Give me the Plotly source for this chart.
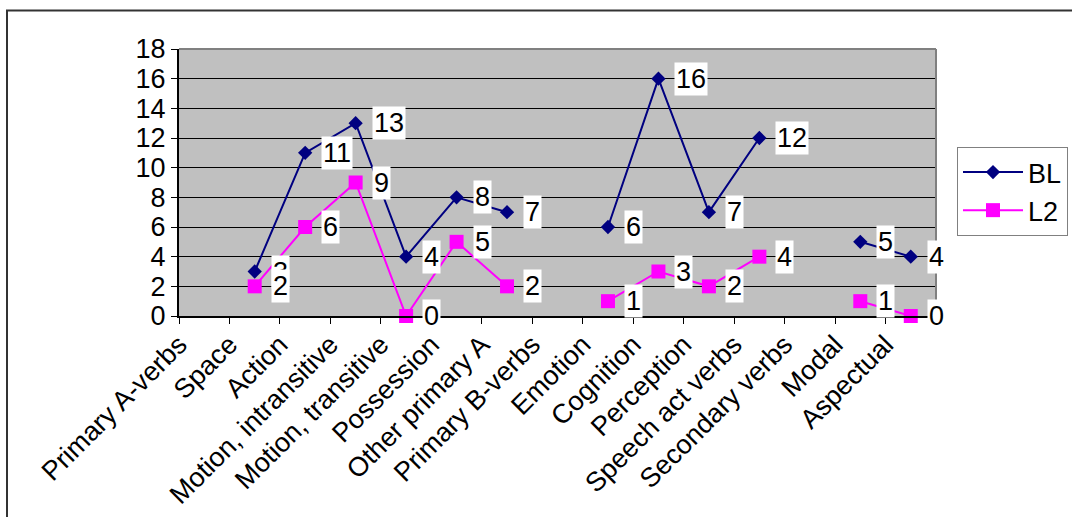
import plotly.graph_objects as go

categories = [
    "Primary A-verbs", "Space", "Action", "Motion, intransitive",
    "Motion, transitive", "Possession", "Other primary A", "Primary B-verbs",
    "Emotion", "Cognition", "Perception", "Speech act verbs",
    "Secondary verbs", "Modal", "Aspectual",
]
bl_values = [None, 3, 11, 13, 4, 8, 7, None, 6, 16, 7, 12, None, 5, 4]
l2_values = [None, 2, 6, 9, 0, 5, 2, None, 1, 3, 2, 4, None, 1, 0]
y_ticks = list(range(0, 19, 2))

FONT = "Liberation Sans, Arial, sans-serif"
FS = 27
NAVY = "#000080"
MAGENTA = "#FF00FF"

x_idx = list(range(len(categories)))

fig = go.Figure()
fig.add_trace(go.Scatter(
    x=x_idx, y=bl_values, name="BL", mode="lines+markers",
    line=dict(color=NAVY, width=2),
    marker=dict(symbol="diamond", size=11, color=NAVY),
    connectgaps=False, cliponaxis=False,
))
fig.add_trace(go.Scatter(
    x=x_idx, y=l2_values, name="L2", mode="lines+markers",
    line=dict(color=MAGENTA, width=2),
    marker=dict(symbol="square", size=14, color=MAGENTA),
    connectgaps=False, cliponaxis=False,
))

# value labels in white boxes to the right of each point
annotations = []
for series in (bl_values, l2_values):
    for i, v in enumerate(series):
        if v is None:
            continue
        annotations.append(dict(
            x=i, y=v, xref="x", yref="y", text=str(v), showarrow=False,
            xanchor="left", yanchor="middle", xshift=16,
            bgcolor="white", borderpad=1,
            font=dict(family=FONT, size=FS, color="black"),
        ))

# category boundaries carry the ticks; each label sits at its left boundary
tick_pos = [i - 0.5 for i in range(len(categories) + 1)]
tick_text = categories + [""]

shapes = [
    # outer chart frame
    dict(type="rect", xref="paper", yref="paper",
         x0=(7 - 179) / 757, x1=(1080 - 179) / 757,
         y0=-(525 - 316) / 267, y1=1 + (49 - 10.5) / 267,
         line=dict(color="#333333", width=2), layer="below"),
    # plot area top and right edges
    dict(type="line", xref="paper", yref="paper", x0=0, x1=1, y0=1, y1=1,
         line=dict(color="#808080", width=2)),
    dict(type="line", xref="paper", yref="paper", x0=1, x1=1, y0=0, y1=1,
         line=dict(color="#808080", width=2)),
]

fig.update_layout(
    width=1072, height=517,
    margin=dict(l=179, r=136, t=49, b=201, pad=0, autoexpand=False),
    paper_bgcolor="white",
    plot_bgcolor="#C0C0C0",
    font=dict(family=FONT, size=FS, color="black"),
    showlegend=True,
    legend=dict(
        x=(957 - 179) / 757, y=1 - (147 - 49) / 267,
        xanchor="left", yanchor="top",
        bgcolor="white", bordercolor="#808080", borderwidth=1,
        font=dict(family=FONT, size=FS, color="black"),
        itemwidth=60, tracegroupgap=0,
    ),
    xaxis=dict(
        range=[-0.5, len(categories) - 0.5], automargin=False,
        tickmode="array", tickvals=tick_pos, ticktext=tick_text,
        tickangle=-45, ticks="outside", ticklen=6, tickcolor="black",
        ticklabelstandoff=-6,
        showgrid=False, zeroline=False,
        showline=True, linecolor="black", linewidth=2,
        tickfont=dict(family=FONT, size=FS, color="black"),
    ),
    yaxis=dict(
        range=[0, 18], tickmode="array", tickvals=y_ticks, automargin=False,
        ticks="outside", ticklen=6, tickcolor="black",
        showgrid=True, gridcolor="black", gridwidth=1,
        zeroline=False,
        showline=True, linecolor="black", linewidth=2,
        tickfont=dict(family=FONT, size=FS, color="black"),
    ),
    annotations=annotations,
    shapes=shapes,
)

fig.write_html("out.html")
